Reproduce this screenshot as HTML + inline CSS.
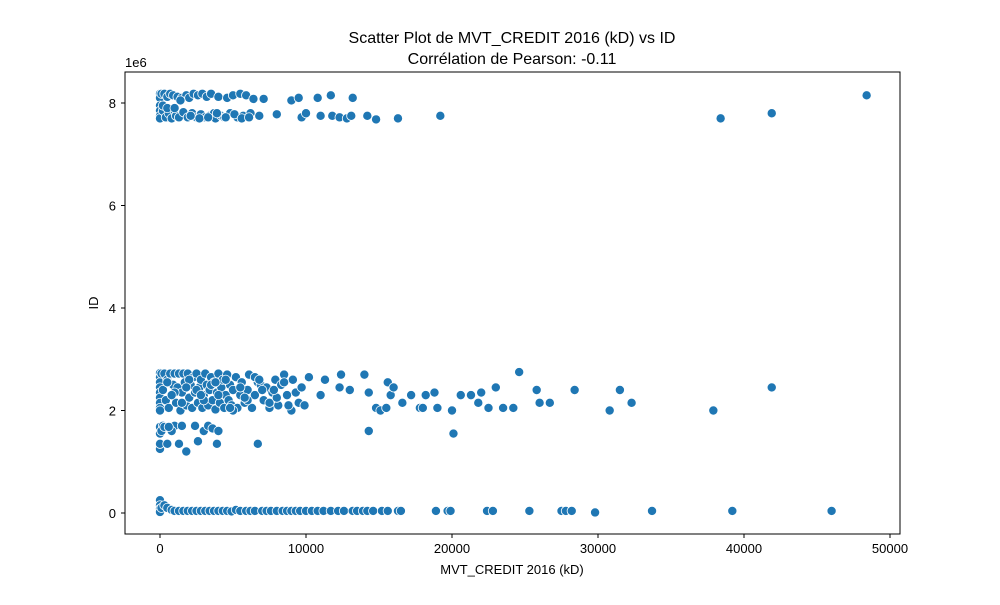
<!DOCTYPE html>
<html><head><meta charset="utf-8"><style>
body{margin:0;background:#fff;}
svg text{font-family:"Liberation Sans","DejaVu Sans",sans-serif;fill:#000;}
</style></head><body>
<svg id="chart" width="1000" height="600">
<rect width="1000" height="600" fill="#fff"/>
<text x="512" y="43" font-size="16" text-anchor="middle">Scatter Plot de MVT_CREDIT 2016 (kD) vs ID</text>
<text x="512" y="64" font-size="16" text-anchor="middle">Corrélation de Pearson: -0.11</text>
<g id="marks"></g>
<rect x="125" y="72" width="775" height="462" fill="none" stroke="#000" stroke-width="1"/>
<g id="xaxis"></g>
<g id="yaxis"></g>
<text x="512" y="574" font-size="13" text-anchor="middle">MVT_CREDIT 2016 (kD)</text>
<text x="98" y="303" font-size="13" text-anchor="middle" transform="rotate(-90 98 303)">ID</text>
<text x="125" y="67" font-size="13">1e6</text>
</svg>
<script>
// x in thousands of kD, y in millions
const xTicks=[0,10000,20000,30000,40000,50000];
const yTicks=[0,2,4,6,8];
const topX=[0,0,0,0,0,0,0.1,0.2,0.3,0.4,0.5,0.6,0.7,0.8,0.9,1.0,1.1,1.2,1.3,1.5,1.6,1.8,1.9,2.0,2.2,2.3,2.5,2.6,2.8,2.9,3.1,3.2,3.4,3.5,3.7,3.8,4.0,4.2,4.4,4.6,4.8,5.0,5.3,5.5,5.7,5.9,6.2,6.4,6.8,7.1,0.2,0.5,1.0,1.4,2.1,2.7,3.3,3.9,4.5,5.1,5.6,6.1,9.0,9.5,10.8,11.7,13.2,8.0,9.7,10.0,11.0,11.8,12.3,12.8,13.1,14.2,14.8,16.3,19.2,38.4,41.9,48.4];
const topY=[8.18,8.1,7.95,7.85,7.75,7.7,8.18,7.85,8.18,7.72,8.12,7.8,8.18,7.7,8.15,7.85,7.75,8.12,7.72,8.1,7.82,8.15,7.72,8.1,7.8,8.18,7.72,8.15,7.78,8.18,7.72,8.12,7.75,8.18,7.8,7.7,8.12,7.75,7.72,8.1,7.8,8.15,7.72,8.18,7.75,8.15,7.8,8.08,7.75,8.08,7.95,7.9,7.9,8.05,7.75,7.7,7.72,7.8,7.72,7.78,7.7,7.72,8.05,8.1,8.1,8.15,8.1,7.78,7.72,7.8,7.75,7.75,7.72,7.7,7.75,7.75,7.68,7.7,7.75,7.7,7.8,8.15];
const midX=[0,0,0,0,0,0,0,0,0,0.1,0.2,0.3,0.4,0.5,0.6,0.7,0.8,0.9,1.0,1.1,1.2,1.3,1.4,1.5,1.6,1.7,1.8,1.9,2.0,2.1,2.2,2.3,2.4,2.5,2.6,2.7,2.8,2.9,3.0,3.1,3.2,3.3,3.4,3.5,3.6,3.7,3.8,3.9,4.0,4.1,4.2,4.3,4.4,4.5,4.6,4.7,4.8,4.9,5.0,5.2,5.3,5.5,5.6,5.8,6.0,6.1,6.3,6.5,6.7,6.9,7.1,7.3,7.5,7.7,7.9,8.1,8.3,8.5,8.7,8.9,9.1,9.3,9.5,9.7,9.9,0.5,1.0,1.5,2.0,2.5,3.0,3.5,4.0,4.5,5.0,5.5,6.0,6.5,7.0,7.5,8.0,8.5,9.0,0.8,1.8,2.8,3.8,4.8,5.8,6.8,7.8,8.8,10.2,11.0,11.3,12.3,12.4,13.0,14.3,14.0,14.3,14.8,15.1,15.5,15.6,15.8,16.0,16.6,17.2,17.8,18.0,18.2,18.8,19.0,20.0,20.1,20.6,21.3,21.8,22.0,22.5,23.0,23.5,24.2,24.6,25.8,26.0,26.7,28.4,30.8,31.5,32.3,37.9,41.9];
const midY=[2.73,2.65,2.55,2.45,2.35,2.25,2.15,2.05,2.0,2.72,2.4,2.72,2.2,2.6,2.05,2.72,2.3,2.5,2.72,2.15,2.45,2.72,2.0,2.35,2.72,2.55,2.1,2.72,2.25,2.5,2.05,2.65,2.35,2.72,2.15,2.45,2.6,2.05,2.3,2.72,2.5,2.1,2.4,2.65,2.2,2.55,2.02,2.35,2.72,2.15,2.45,2.6,2.05,2.3,2.7,2.2,2.5,2.1,2.4,2.65,2.05,2.3,2.55,2.15,2.4,2.7,2.05,2.3,2.55,2.5,2.2,2.45,2.05,2.35,2.6,2.1,2.5,2.7,2.3,2.05,2.6,2.35,2.15,2.45,2.1,2.55,2.35,2.15,2.6,2.4,2.2,2.5,2.3,2.6,2.0,2.45,2.2,2.65,2.4,2.15,2.25,2.55,2.0,2.3,2.45,2.3,2.55,2.05,2.25,2.6,2.4,2.1,2.65,2.3,2.6,2.45,2.7,2.4,2.35,2.7,1.6,2.05,2.0,2.05,2.55,2.3,2.45,2.15,2.3,2.05,2.05,2.3,2.35,2.05,2.0,1.55,2.3,2.3,2.15,2.35,2.05,2.45,2.05,2.05,2.75,2.4,2.15,2.15,2.4,2.0,2.4,2.15,2.0,2.45,2.7];
const lowX=[0,0,0,0,0.2,0.1,1.0,1.5,1.3,1.8,2.4,2.6,3.0,3.3,3.6,4.0,3.9,6.7,0.5,0.8,0.3,0.6];
const lowY=[1.25,1.35,1.55,1.68,1.7,1.6,1.7,1.7,1.35,1.2,1.7,1.4,1.6,1.7,1.65,1.6,1.35,1.35,1.35,1.6,1.68,1.68];
const botX=[0,0,0,0,0.1,0.3,0.5,0.8,1.0,1.3,1.6,1.9,2.2,2.5,2.8,3.1,3.4,3.7,4.0,4.3,4.6,4.9,5.2,5.5,5.9,6.2,6.5,7.0,7.3,7.6,8.0,8.4,8.7,9.0,9.3,9.6,10.0,10.4,10.8,11.2,11.7,12.2,12.6,13.2,13.5,13.9,14.2,14.6,15.2,15.6,16.3,16.5,18.9,19.7,19.9,22.4,22.8,25.3,27.5,27.8,28.2,29.8,33.7,39.2,46.0];
const botY=[0.25,0.15,0.08,0.02,0.1,0.15,0.1,0.06,0.04,0.04,0.04,0.04,0.04,0.04,0.04,0.04,0.04,0.04,0.04,0.04,0.04,0.03,0.06,0.04,0.04,0.04,0.04,0.04,0.04,0.04,0.04,0.04,0.04,0.04,0.04,0.04,0.04,0.04,0.04,0.04,0.04,0.04,0.04,0.04,0.04,0.04,0.04,0.04,0.04,0.04,0.04,0.04,0.04,0.04,0.04,0.04,0.04,0.04,0.04,0.04,0.04,0.01,0.04,0.04,0.04];

const NS='http://www.w3.org/2000/svg';
const xs=v=>160+v*14.6;          // v in thousands
const xsRaw=v=>160+v/1000*14.6;
const ys=v=>513-v*51.25;         // v in millions
const marks=document.getElementById('marks');
function plot(X,Y,group){
  for(let i=0;i<X.length;i++){
    const c=document.createElementNS(NS,'circle');
    c.setAttribute('cx',xs(X[i]));c.setAttribute('cy',ys(Y[i]));
    c.setAttribute('r',4.6);c.setAttribute('fill','#1f77b4');
    c.setAttribute('stroke','#fff');c.setAttribute('stroke-width','0.8');
    
    
    marks.appendChild(c);
  }
}
plot(topX,topY,'top');plot(midX,midY,'mid');plot(lowX,lowY,'low');plot(botX,botY,'bottom');

const xa=document.getElementById('xaxis');
xTicks.forEach(t=>{
  const x=xsRaw(t);
  const l=document.createElementNS(NS,'line');
  l.setAttribute('x1',x);l.setAttribute('x2',x);l.setAttribute('y1',534);l.setAttribute('y2',538);l.setAttribute('stroke','#000');
  
  
  xa.appendChild(l);
  const tx=document.createElementNS(NS,'text');
  tx.setAttribute('x',x);tx.setAttribute('y',553);tx.setAttribute('font-size','13');tx.setAttribute('text-anchor','middle');
  tx.textContent=t;
  
  
  xa.appendChild(tx);
});
const ya=document.getElementById('yaxis');
yTicks.forEach(t=>{
  const y=ys(t);
  const l=document.createElementNS(NS,'line');
  l.setAttribute('x1',121);l.setAttribute('x2',125);l.setAttribute('y1',y);l.setAttribute('y2',y);l.setAttribute('stroke','#000');
  
  
  ya.appendChild(l);
  const tx=document.createElementNS(NS,'text');
  tx.setAttribute('x',116);tx.setAttribute('y',y+5);tx.setAttribute('font-size','13');tx.setAttribute('text-anchor','end');
  tx.textContent=t;
  
  
  ya.appendChild(tx);
});
</script>
</body></html>
